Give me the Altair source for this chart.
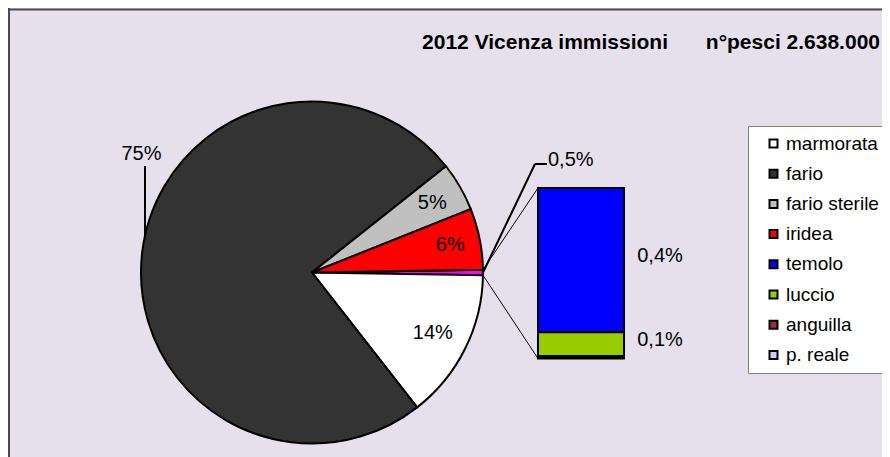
import math
import pandas as pd
import altair as alt

# ---------------- data ----------------
pie_cats = ["marmorata", "fario", "fario sterile", "iridea"]
pie_vals = [375000, 1975000, 122000, 153000]
bar_cats = ["temolo", "luccio", "anguilla", "p. reale"]
bar_vals = [11000, 1830, 110, 60]
other_name = "altri"
legend_cats = pie_cats + bar_cats
legend_colors = ["#FFFFFF", "#333333", "#C0C0C0", "#FF0000",
                 "#0000FF", "#99CC00", "#993333", "#CCCCFF"]
other_color = "#FF00FF"
title_left = "2012 Vicenza immissioni"
title_right_prefix = "n°pesci"

total = sum(pie_vals) + sum(bar_vals)
other_total = sum(bar_vals)


def pct_label(v):
    p = 100.0 * v / total
    if p >= 1:
        return f"{p:.0f}%"
    return f"{p:.1f}%".replace(".", ",")


# ---------------- layout ----------------
W, H = 874, 449
CX, CY, R = 304, 264.5, 171
BX0, BX1, BTOP, BBOT = 530, 616, 180, 350.5
FONT = "Liberation Sans"
label_r = {"marmorata": 135, "fario sterile": 139, "iridea": 141}
fario_off = (-170.5, -119)

# pie table (other slice first, centred at 3 o'clock, clockwise)
names = [other_name] + pie_cats
vals = [other_total] + pie_vals
acc = math.pi / 2 - math.pi * other_total / total
rows = []
for n, v in zip(names, vals):
    t0 = acc
    t1 = acc + 2 * math.pi * v / total
    acc = t1
    mid = (t0 + t1) / 2
    if n == "fario":
        lt = math.atan2(fario_off[0], -fario_off[1]) % (2 * math.pi)
        lr = math.hypot(*fario_off)
    else:
        lt = mid
        lr = label_r.get(n, 0)
    rows.append(dict(cat=n, value=v, t0=t0, t1=t1, mid=mid, lt=lt, lr=lr,
                     label=pct_label(v)))
pie = pd.DataFrame(rows)
pie_labels = pie[pie["cat"] != other_name]
oth = pie[pie["cat"] == other_name].iloc[0]

# bar table (stacked from the top)
acc = other_total
brows = []
for n, v in zip(bar_cats, bar_vals):
    b1 = acc
    b0 = acc - v
    acc = b0
    brows.append(dict(cat=n, value=v, b0=b0, b1=b1, bm=(b0 + b1) / 2,
                      label=pct_label(v) if v / total >= 0.0005 else ""))
bar = pd.DataFrame(brows)
bar_labels = bar[bar["label"] != ""]

ysc = alt.Scale(domain=[0, other_total], range=[BBOT, BTOP])


def edge(t, r=R):
    return CX + r * math.sin(t), CY - r * math.cos(t)


ux, uy = edge(oth["t0"])
lx, ly = edge(oth["t1"])
mx, my = edge(oth["mid"])
fx = CX - 167
fy_edge = CY - math.sqrt(R ** 2 - 167 ** 2)
segs = pd.DataFrame([
    dict(x=ux, y=uy, x2=BX0, y2=BTOP, w=1),
    dict(x=lx, y=ly, x2=BX0, y2=BBOT, w=1),
    dict(x=mx, y=my, x2=527, y2=156, w=2),
    dict(x=527, y=156, x2=539, y2=156, w=2),
    dict(x=fx, y=CY - 106.5, x2=fx, y2=fy_edge, w=2),
])

color = alt.Color(
    "cat:N",
    scale=alt.Scale(domain=legend_cats + [other_name],
                    range=legend_colors + [other_color]),
    legend=alt.Legend(
        values=legend_cats, title=None, orient="none",
        legendX=740, legendY=118, fillColor="white", strokeColor="#808080",
        padding=8, symbolType="square", symbolSize=64,
        symbolStrokeColor="black", symbolStrokeWidth=2, symbolOffset=8,
        labelFontSize=19, labelFont=FONT, labelColor="black",
        rowPadding=10.2, labelOffset=3, labelLimit=300,
    ),
)

pie_layer = alt.Chart(pie).mark_arc(radius=R, stroke="black", strokeWidth=2).encode(
    theta=alt.Theta("t0:Q", scale=None),
    theta2="t1:Q",
    x=alt.value(CX), y=alt.value(CY),
    color=color,
    order=alt.Order("t0:Q"),
)

pie_text = alt.Chart(pie_labels).mark_text(font=FONT, fontSize=20, color="black").encode(
    theta=alt.Theta("lt:Q", scale=None),
    radius=alt.Radius("lr:Q", scale=None),
    x=alt.value(CX), y=alt.value(CY),
    text="label:N",
)

bar_layer = alt.Chart(bar).mark_rect(stroke="black", strokeWidth=2).encode(
    x=alt.value(BX0), x2=alt.value(BX1),
    y=alt.Y("b0:Q", scale=ysc, axis=None),
    y2="b1:Q",
    color=color,
)

bar_text = alt.Chart(bar_labels).mark_text(font=FONT, fontSize=20, color="black", dy=-4).encode(
    x=alt.value(BX1 + 36),
    y=alt.Y("bm:Q", scale=ysc, axis=None),
    text="label:N",
)

seg_layer = alt.Chart(segs).mark_rule(color="black").encode(
    x=alt.X("x:Q", scale=None), y=alt.Y("y:Q", scale=None),
    x2="x2:Q", y2="y2:Q",
    strokeWidth=alt.StrokeWidth("w:Q", scale=None),
)

other_text = alt.Chart(pd.DataFrame([dict(label=oth["label"])])).mark_text(
    font=FONT, fontSize=20, color="black", align="left").encode(
    x=alt.value(540), y=alt.value(151.5), text="label:N")

titles = pd.DataFrame([
    dict(t=title_left, x=660),
    dict(t=f"{title_right_prefix} {total:,}".replace(",", "."), x=872),
])
title_layer = alt.Chart(titles).mark_text(
    font=FONT, fontSize=21, fontWeight="bold", color="black", align="right").encode(
    x=alt.X("x:Q", scale=None), y=alt.value(34.5), text="t:N")

frame_l = alt.Chart(pd.DataFrame([{"a": 0}])).mark_rule(color="#4a4a4a", strokeWidth=2).encode(
    x=alt.value(1), y=alt.value(0), y2=alt.value(H))
frame_t = alt.Chart(pd.DataFrame([{"a": 0}])).mark_rule(color="#4a4a4a", strokeWidth=2).encode(
    x=alt.value(0), x2=alt.value(W), y=alt.value(1.5))

chart = alt.layer(
    seg_layer, pie_layer, bar_layer, pie_text, bar_text, other_text, title_layer,
    frame_l, frame_t,
).properties(
    width=W, height=H, padding=0,
    autosize=alt.AutoSizeParams(type="none"),
    background="#E5E0EC",
).configure_view(stroke=None)

chart.save("out.html", embed_options={"renderer": "svg", "actions": False})
